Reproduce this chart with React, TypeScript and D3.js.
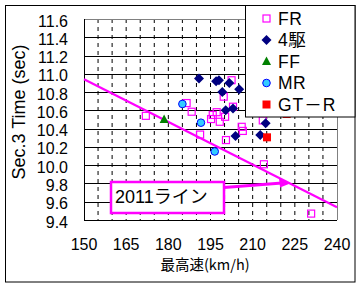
import React from "react";
import * as d3 from "d3";

// categories / series
const frSpeed = [172, 202.5, 199.7, 186.5, 188.3, 203, 197.2, 195.8, 195.2, 200.2, 198.3, 191.3, 206.1, 206.5, 200.5, 213.6, 214, 230.8];
const frTime = [10.54, 10.93, 10.75, 10.68, 10.585, 10.64, 10.58, 10.55, 10.505, 10.53, 10.475, 10.335, 10.42, 10.375, 10.275, 10.49, 10.01, 9.47];
const awdSpeed = [190.9, 197.0, 198.0, 201.7, 205.2, 199.2, 200.4, 203, 203.9, 212.7, 214.6];
const awdTime = [10.95, 10.92, 10.93, 10.9, 10.83, 10.8, 10.6, 10.62, 10.32, 10.33, 10.46];
const ffSpeed = [178.5];
const ffTime = [10.5];
const mrSpeed = [185, 191.6, 196.5];
const mrTime = [10.67, 10.465, 10.15];
const gtrSpeed = [215.1, 222.1];
const gtrTime = [10.305, 10.56];
const lineSpeed = [150, 240];
const lineTime = [10.94, 9.54];

const xTicks = [150, 165, 180, 195, 210, 225, 240];
const yTicks = [9.4, 9.6, 9.8, 10.0, 10.2, 10.4, 10.6, 10.8, 11.0, 11.2, 11.4, 11.6];
const legendNames = ["FR", "4駆", "FF", "MR", "GT－R"];

const W = 361;
const H = 289;
const font = "'Liberation Sans', Arial, 'Noto Sans CJK JP', sans-serif";

const x = d3.scaleLinear().domain([150, 240]).range([84, 337]);
const y = d3.scaleLinear().domain([9.4, 11.6]).range([220, 19]);

const magenta = "#FF00FF";
const navy = "#000080";

const Marker = ({ kind, cx, cy }: { kind: number; cx: number; cy: number }) => {
  if (kind === 0)
    return <rect x={cx - 3.5} y={cy - 3.5} width={7} height={7} fill="white" fillOpacity={0} stroke={magenta} strokeWidth={1.2} />;
  if (kind === 1)
    return <path d={`M${cx},${cy - 5}L${cx + 5},${cy}L${cx},${cy + 5}L${cx - 5},${cy}Z`} fill={navy} />;
  if (kind === 2)
    return <path d={`M${cx},${cy - 5}L${cx + 4.5},${cy + 3.5}L${cx - 4.5},${cy + 3.5}Z`} fill="#008000" />;
  if (kind === 3)
    return <circle cx={cx} cy={cy} r={3.8} fill="#33CCFF" stroke="#0000FF" strokeWidth={1} />;
  return <rect x={cx - 4} y={cy - 4} width={8} height={8} fill="#FF0000" />;
};

export default function App() {
  const series = [
    [frSpeed, frTime],
    [awdSpeed, awdTime],
    [ffSpeed, ffTime],
    [mrSpeed, mrTime],
    [gtrSpeed, gtrTime],
  ];
  const minor = d3.range(155, 240, 5);
  const line = d3
    .line<number>()
    .x((d) => x(d))
    .y((_, i) => y(lineTime[i]));

  // arrow tip on the trend line
  const tipX = 223.3;
  const tipY = lineTime[0] + ((lineTime[1] - lineTime[0]) * (tipX - lineSpeed[0])) / (lineSpeed[1] - lineSpeed[0]);

  return (
    <svg width={W} height={H} style={{ position: "absolute", left: 0, top: 0, background: "white" }} fontFamily={font}>
      <rect x={5.5} y={5.5} width={349.5} height={276.5} fill="white" stroke="black" />

      {/* grid */}
      {minor.map((v) => (
        <line key={v} x1={x(v)} x2={x(v)} y1={y(11.6)} y2={y(9.4)} stroke="black" strokeDasharray="4,4" />
      ))}
      {yTicks.slice(1, -1).map((v) => (
        <line key={v} x1={x(150)} x2={x(240)} y1={Math.round(y(v)) + 0.5} y2={Math.round(y(v)) + 0.5} stroke="black" />
      ))}
      <line x1={x(150)} x2={x(240)} y1={y(11.6) + 0.5} y2={y(11.6) + 0.5} stroke="#808080" />
      <line x1={x(240) + 0.5} x2={x(240) + 0.5} y1={y(11.6)} y2={y(9.4)} stroke="#808080" />
      <line x1={x(150) + 0.5} x2={x(150) + 0.5} y1={y(11.6)} y2={y(9.4)} stroke="black" />
      <line x1={x(150)} x2={x(240)} y1={y(9.4) + 0.5} y2={y(9.4) + 0.5} stroke="black" />

      {/* tick labels */}
      {yTicks.map((v) => (
        <text key={v} x={68} y={y(v) + 2} textAnchor="end" dominantBaseline="central" fontSize={16}>
          {v.toFixed(1)}
        </text>
      ))}
      {xTicks.map((v) => (
        <text key={v} x={x(v)} y={250} textAnchor="middle" fontSize={16}>
          {v}
        </text>
      ))}
      <text x={205} y={270} textAnchor="middle" fontSize={14.5} fontFamily="'Noto Sans CJK JP', sans-serif">
        最高速(km/h)
      </text>
      <text transform="translate(25,112) rotate(-90)" textAnchor="middle" fontSize={18}>
        Sec.3 Time (sec)
      </text>

      {/* trend line */}
      <path d={line(lineSpeed) || ""} fill="none" stroke={magenta} strokeWidth={2.2} />

      {/* points */}
      {series.map(([xs, ys], k) =>
        xs.map((v, i) => <Marker key={`${k}-${i}`} kind={k} cx={x(v)} cy={y(ys[i])} />)
      )}

      {/* callout */}
      <line x1={224} y1={187.5} x2={x(tipX) - 8} y2={y(tipY) - 0.5} stroke={magenta} strokeWidth={3} />
      <path
        d={`M${x(tipX)},${y(tipY)}L${x(tipX) - 11},${y(tipY) - 5}L${x(tipX) - 10},${y(tipY) + 4}Z`}
        fill={magenta}
      />
      <rect x={111} y={182} width={113} height={31} fill="white" stroke={magenta} strokeWidth={2.5} />
      <text x={115} y={203} fontSize={18} fontFamily="'Liberation Sans', 'Noto Sans CJK JP', sans-serif">
        2011ライン
      </text>

      {/* legend */}
      <rect x={245.5} y={5.5} width={109.5} height={111.5} fill="white" stroke="black" />
      {legendNames.map((name, k) => {
        const cy = 18.5 + k * 21.5;
        return (
          <g key={name}>
            <Marker kind={k} cx={266.5} cy={cy} />
            <text x={278} y={cy} dominantBaseline="central" fontSize={17.5} letterSpacing={k === 4 ? 1 : 0.5}>
              {name}
            </text>
          </g>
        );
      })}
    </svg>
  );
}
